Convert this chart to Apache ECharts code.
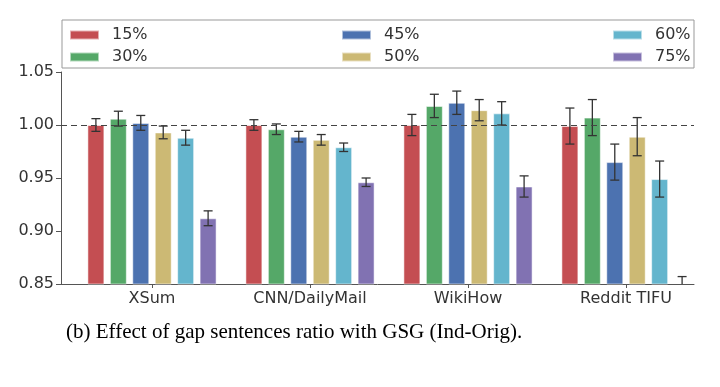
<!DOCTYPE html>
<html>
<head>
<meta charset="utf-8">
<script src="https://cdn.jsdelivr.net/npm/echarts@6/dist/echarts.min.js"></script>
<style>html,body{margin:0;padding:0;background:#fff;}#c{width:720px;height:387px;}</style>
</head>
<body>
<div id="c"></div>
<script>
var categories = ['XSum', 'CNN/DailyMail', 'WikiHow', 'Reddit TIFU'];
var seriesNames = ['15%', '30%', '45%', '50%', '60%', '75%'];
var colors = ['#C44E52', '#55A868', '#4C72B0', '#CCB974', '#64B5CD', '#8172B2'];
var v15 = [1.000, 1.000, 1.000, 0.999];
var v30 = [1.006, 0.996, 1.018, 1.007];
var v45 = [1.002, 0.989, 1.021, 0.965];
var v50 = [0.993, 0.986, 1.014, 0.989];
var v60 = [0.988, 0.979, 1.011, 0.949];
var v75 = [0.912, 0.946, 0.942, 0.840];
var e15 = [0.006, 0.005, 0.010, 0.017];
var e30 = [0.007, 0.005, 0.011, 0.017];
var e45 = [0.007, 0.005, 0.011, 0.017];
var e50 = [0.006, 0.005, 0.010, 0.018];
var e60 = [0.007, 0.004, 0.011, 0.017];
var e75 = [0.007, 0.004, 0.010, 0.017];
var yTicks = [0.85, 0.90, 0.95, 1.00, 1.05];
var refLine = 1.0;
var caption = '(b) Effect of gap sentences ratio with GSG (Ind-Orig).';

var values = [v15, v30, v45, v50, v60, v75];
var errs = [e15, e30, e45, e50, e60, e75];

var BAR_W = 17, BAR_GAP = 0.32;
var step = BAR_W * (1 + BAR_GAP);
var yMin = yTicks[0], yMax = yTicks[yTicks.length - 1];

var chart = echarts.init(document.getElementById('c'), null, {renderer: 'canvas'});

var series = [];
values.forEach(function (vals, i) {
  series.push({
    type: 'bar', name: seriesNames[i], data: vals, xAxisIndex: 0, yAxisIndex: 0,
    barWidth: BAR_W, barGap: (BAR_GAP * 100) + '%',
    itemStyle: {color: colors[i], borderColor: 'rgba(255,255,255,0.55)', borderWidth: 1},
    z: 2, silent: true
  });
});
var errData = [];
values.forEach(function (vals, i) {
  vals.forEach(function (v, c) { errData.push([c, v, errs[i][c], i]); });
});
series.push({
  type: 'custom', name: 'err', data: errData, clip: true, z: 3, silent: true,
  xAxisIndex: 0, yAxisIndex: 0,
  encode: {x: 0, y: 1},
  renderItem: function (params, api) {
    var c = api.value(0), v = api.value(1), e = api.value(2), i = api.value(3);
    var off = (i - 2.5) * step;
    var top = api.coord([c, v + e]);
    var bot = api.coord([c, v - e]);
    var x = top[0] + off;
    var cap = 4.5;
    var st = {stroke: '#333', lineWidth: 1.3};
    return {type: 'group', children: [
      {type: 'line', shape: {x1: x, y1: top[1], x2: x, y2: bot[1]}, style: st},
      {type: 'line', shape: {x1: x - cap, y1: top[1], x2: x + cap, y2: top[1]}, style: st},
      {type: 'line', shape: {x1: x - cap, y1: bot[1], x2: x + cap, y2: bot[1]}, style: st}
    ]};
  }
});
// reference line on the frame grid
series.push({
  type: 'line', name: 'ref', data: [], xAxisIndex: 1, yAxisIndex: 1, z: 4, silent: true,
  markLine: {
    silent: true, symbol: 'none', label: {show: false}, animation: false,
    lineStyle: {color: '#444', type: [6, 4], width: 1.2},
    data: [{yAxis: refLine}]
  }
});

function legendCol(names, left) {
  return {
    data: names.map(function (n) { return {name: n, icon: 'rect'}; }),
    orient: 'vertical', left: left, top: 27, padding: 0,
    itemWidth: 29, itemHeight: 9, itemGap: 6,
    textStyle: {fontSize: 16, color: '#333', fontFamily: 'DejaVu Sans', padding: [0, 0, 0, 8]}
  };
}

chart.setOption({
  animation: false,
  color: colors,
  grid: [
    {left: 73, right: 15, top: 72, bottom: 103, containLabel: false},
    {left: 61, right: 26, top: 72, bottom: 103, containLabel: false}
  ],
  legend: [legendCol(['15%', '30%'], 69), legendCol(['45%', '50%'], 341), legendCol(['60%', '75%'], 612)],
  xAxis: [{
    type: 'category', data: categories, gridIndex: 0,
    axisLine: {show: false},
    axisTick: {show: true, alignWithLabel: true, length: 4, lineStyle: {color: '#555'}},
    axisLabel: {fontSize: 16, color: '#333', fontFamily: 'DejaVu Sans', margin: 7}
  }, {
    type: 'category', data: categories, gridIndex: 1,
    axisLine: {show: true, lineStyle: {color: '#555', width: 1}},
    axisTick: {show: false}, axisLabel: {show: false}
  }],
  yAxis: [{
    type: 'value', min: yMin, max: yMax, interval: 0.05, gridIndex: 0,
    axisLine: {show: false}, axisTick: {show: false}, axisLabel: {show: false},
    splitLine: {show: false}
  }, {
    type: 'value', min: yMin, max: yMax, interval: 0.05, gridIndex: 1,
    axisLine: {show: true, lineStyle: {color: '#555', width: 1}},
    axisTick: {show: true, length: 5, lineStyle: {color: '#555'}},
    splitLine: {show: false},
    axisLabel: {fontSize: 16, color: '#333', fontFamily: 'DejaVu Sans', margin: 7,
      formatter: function (v) { return v.toFixed(2); }}
  }],
  graphic: [
    {type: 'rect', shape: {x: 62, y: 20, width: 632, height: 48},
      style: {fill: 'none', stroke: '#999', lineWidth: 1}, z: 0, silent: true},
    {type: 'text', left: 66, top: 322,
      style: {text: caption, fontFamily: 'Liberation Serif', fontSize: 21, fill: '#000'}}
  ],
  series: series
});
</script>
</body>
</html>
